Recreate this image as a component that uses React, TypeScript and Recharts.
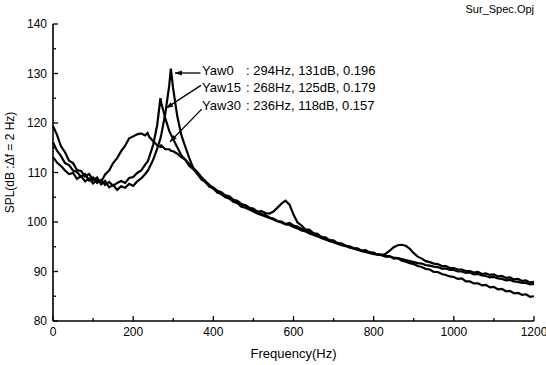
import { LineChart, Line, XAxis, YAxis, ReferenceLine, ReferenceDot } from 'recharts';

// frequency grid (Hz), with the three peak frequencies added
const FREQ = [
  0, 10, 20, 30, 40, 50, 60, 70, 80, 90,
  100, 110, 120, 130, 140, 150, 160, 170, 180, 190,
  200, 210, 220, 230, 236, 240, 250, 260, 268, 270,
  280, 290, 294, 300, 310, 320, 330, 340, 350, 360,
  370, 380, 390, 400, 410, 420, 430, 440, 450, 460,
  470, 480, 490, 500, 510, 520, 530, 540, 550, 560,
  570, 580, 590, 600, 610, 620, 630, 640, 650, 660,
  670, 680, 690, 700, 710, 720, 730, 740, 750, 760,
  770, 780, 790, 800, 810, 820, 830, 840, 850, 860,
  870, 880, 890, 900, 910, 920, 930, 940, 950, 960,
  970, 980, 990, 1000, 1010, 1020, 1030, 1040, 1050, 1060,
  1070, 1080, 1090, 1100, 1110, 1120, 1130, 1140, 1150, 1160,
  1170, 1180, 1190, 1200,
];

const YAW0 = [
  119.4, 117.6, 115.3, 114.1, 112.4, 111.9, 110.5, 110.3, 109.2, 109.7,
  108.5, 109.0, 107.6, 108.3, 107.0, 107.5, 106.5, 107.2, 106.9, 107.7,
  107.3, 108.2, 108.8, 109.7, 110.3, 110.9, 112.6, 114.8, 116.9, 117.6,
  121.8, 127.6, 131.0, 126.8, 121.4, 117.6, 115.2, 112.9, 110.9, 109.8,
  108.6, 108.1, 107.1, 106.9, 105.9, 105.8, 105.1, 105.0, 104.2, 104.1,
  103.3, 103.4, 102.8, 102.7, 102.1, 102.2, 101.8, 101.7, 102.1, 102.9,
  103.7, 104.3, 103.5, 101.5, 99.9, 99.3, 98.5, 98.4, 97.7, 97.6,
  96.9, 96.9, 96.3, 96.3, 95.7, 95.7, 95.2, 95.1, 94.7, 94.7,
  94.2, 94.3, 93.8, 93.8, 93.4, 93.4, 93.1, 93.1, 92.6, 92.7,
  92.2, 92.0, 91.7, 91.5, 91.1, 90.9, 90.5, 90.4, 89.9, 89.9,
  89.5, 89.3, 89.0, 88.9, 88.5, 88.6, 88.0, 88.0, 87.6, 87.6,
  87.2, 87.3, 86.8, 86.9, 86.4, 86.5, 86.0, 86.1, 85.6, 85.7,
  85.3, 85.4, 84.9, 85.0,
];

const YAW15 = [
  116.1, 114.4, 113.3, 111.9, 111.5, 110.4, 110.1, 109.1, 109.7, 108.4,
  109.0, 107.9, 108.5, 107.5, 108.1, 107.3, 107.9, 108.3, 107.9, 108.9,
  109.1, 109.9, 110.4, 111.6, 112.2, 113.1, 115.6, 119.6, 125.0, 124.1,
  121.0, 118.4, 117.7, 116.7, 115.1, 113.5, 112.6, 111.3, 110.7, 109.7,
  108.9, 108.1, 107.3, 107.0, 106.3, 106.0, 105.4, 105.2, 104.5, 104.3,
  103.6, 103.4, 102.9, 102.4, 102.1, 101.6, 101.4, 100.9, 100.7, 100.2,
  100.1, 99.6, 99.8, 99.3, 99.1, 98.6, 98.4, 97.9, 97.7, 97.2,
  97.0, 96.5, 96.4, 95.9, 95.8, 95.4, 95.3, 94.8, 94.8, 94.4,
  94.3, 93.9, 93.9, 93.5, 93.5, 93.3, 93.6, 94.2, 94.9, 95.3,
  95.4, 95.2, 94.6, 93.7, 93.0, 92.6, 92.1, 91.9, 91.6, 91.5,
  91.1, 91.1, 90.7, 90.7, 90.4, 90.4, 90.1, 90.1, 89.8, 89.9,
  89.5, 89.6, 89.3, 89.4, 89.0, 89.1, 88.7, 88.8, 88.4, 88.5,
  88.1, 88.2, 87.8, 87.9,
];

const YAW30 = [
  113.1, 112.0, 111.3, 110.4, 109.7, 109.9, 108.7, 109.3, 108.2, 108.8,
  107.8, 108.5, 108.1, 109.6, 110.4, 111.9, 112.9, 114.3, 115.4, 116.9,
  117.3, 117.7, 117.9, 117.5, 118.0, 117.2, 116.3, 115.5, 115.2, 115.5,
  114.7, 114.7, 114.4, 114.3, 113.8, 113.1, 112.6, 111.7, 110.9, 110.1,
  109.1, 108.3, 107.5, 106.7, 106.1, 105.6, 105.0, 104.7, 104.1, 103.8,
  103.1, 102.9, 102.5, 102.1, 101.7, 101.4, 101.1, 100.8, 100.5, 100.1,
  99.9, 99.5, 99.4, 99.0, 98.7, 98.3, 98.1, 97.7, 97.4, 97.1,
  96.7, 96.5, 96.1, 95.9, 95.6, 95.3, 95.1, 94.9, 94.6, 94.4,
  94.1, 94.0, 93.7, 93.6, 93.4, 93.3, 93.0, 93.0, 92.8, 92.7,
  92.5, 92.3, 92.1, 91.9, 91.7, 91.6, 91.3, 91.2, 91.0, 90.9,
  90.6, 90.6, 90.3, 90.3, 90.0, 90.0, 89.7, 89.8, 89.4, 89.5,
  89.2, 89.1, 88.8, 88.9, 88.6, 88.5, 88.2, 88.3, 88.0, 87.9,
  87.7, 87.7, 87.4, 87.5,
];

const X_TICKS = [0, 100, 200, 300, 400, 500, 600, 700, 800, 900, 1000, 1100, 1200];
const Y_TICKS = [80, 85, 90, 95, 100, 105, 110, 115, 120, 125, 130, 135, 140];

// peak annotations: name, text, text anchor, leader start and arrow tip (Hz, dB)
const NOTE_NAMES = ['Yaw0', 'Yaw15', 'Yaw30'];
const NOTE_TEXT = [': 294Hz, 131dB, 0.196', ': 268Hz, 125dB, 0.179', ': 236Hz, 118dB, 0.157'];
const NOTE_AT = [[372, 130.7], [372, 127.2], [372, 123.6]];
const NOTE_FROM = [[368, 130.1], [369, 127.6], [371, 122.8]];
const NOTE_TO = [[304, 130.1], [282, 123.0], [292, 116.2]];

const data = FREQ.map((f, i) => ({ f, yaw0: YAW0[i], yaw15: YAW15[i], yaw30: YAW30[i] }));

const FONT = 'Arial, "Liberation Sans", Helvetica, sans-serif';

const BottomTick = (props: any) => {
  const { x, y, payload } = props;
  const major = payload.value % 200 === 0;
  return (
    <g>
      <line x1={x} y1={y} x2={x} y2={y - (major ? 5 : 3)} stroke="#000" strokeWidth={1.3} />
      {major && (
        <text x={x} y={y + 15} textAnchor="middle" fontSize={12} fontFamily={FONT} fill="#000">
          {payload.value}
        </text>
      )}
    </g>
  );
};

const TopTick = (props: any) => {
  const { x, y, payload } = props;
  const major = payload.value % 200 === 0;
  return <line x1={x} y1={y} x2={x} y2={y + (major ? 5 : 3)} stroke="#000" strokeWidth={1.3} />;
};

const LeftTick = (props: any) => {
  const { x, y, payload } = props;
  const major = payload.value % 10 === 0;
  return (
    <g>
      <line x1={x} y1={y} x2={x + (major ? 5 : 3)} y2={y} stroke="#000" strokeWidth={1.3} />
      {major && (
        <text x={x - 6} y={y + 4} textAnchor="end" fontSize={12} fontFamily={FONT} fill="#000">
          {payload.value}
        </text>
      )}
    </g>
  );
};

const RightTick = (props: any) => {
  const { x, y, payload } = props;
  const major = payload.value % 10 === 0;
  return <line x1={x} y1={y} x2={x - (major ? 5 : 3)} y2={y} stroke="#000" strokeWidth={1.3} />;
};

const arrowShape = (props: any) => {
  const { x1, y1, x2, y2 } = props;
  const ang = Math.atan2(y2 - y1, x2 - x1);
  const len = 7;
  const w = 2.5;
  const bx = x2 - len * Math.cos(ang);
  const by = y2 - len * Math.sin(ang);
  const px = -Math.sin(ang) * w;
  const py = Math.cos(ang) * w;
  return (
    <g>
      <line x1={x1} y1={y1} x2={x2} y2={y2} stroke="#000" strokeWidth={1.3} />
      <polygon points={`${x2},${y2} ${bx + px},${by + py} ${bx - px},${by - py}`} fill="#000" />
    </g>
  );
};

const noteText = (i: number) => (props: any) => {
  const { cx, cy } = props;
  return (
    <g>
      <text x={cx} y={cy + 4.5} fontSize={13} fontFamily={FONT} fill="#000">
        {NOTE_NAMES[i]}
      </text>
      <text x={cx + 44} y={cy + 4.5} fontSize={13} fontFamily={FONT} fill="#000">
        {NOTE_TEXT[i]}
      </text>
    </g>
  );
};

export default function App() {
  return (
    <div style={{ position: 'absolute', left: 0, top: 0, width: 546, height: 365, background: '#fff' }}>
      <div
        style={{
          position: 'absolute',
          right: 12,
          top: 3,
          fontFamily: FONT,
          fontSize: 11,
          color: '#000',
        }}
      >
        Sur_Spec.Opj
      </div>
      <LineChart width={546} height={365} data={data} margin={{ top: 24, right: 12, bottom: 14, left: 8 }}>
        <XAxis
          dataKey="f"
          type="number"
          domain={[0, 1200]}
          ticks={X_TICKS}
          interval={0}
          tickSize={0}
          tickMargin={0}
          tickLine={false}
          tick={<BottomTick />}
          axisLine={{ stroke: '#000', strokeWidth: 1.6 }}
          height={30}
          label={{
            content: ({ viewBox }: any) => (
              <text
                x={viewBox.x + viewBox.width / 2}
                y={viewBox.y + 37}
                textAnchor="middle"
                fontSize={13}
                fontFamily={FONT}
                fill="#000"
              >
                Frequency(Hz)
              </text>
            ),
          }}
        />
        <XAxis
          xAxisId="top"
          orientation="top"
          dataKey="f"
          type="number"
          domain={[0, 1200]}
          ticks={X_TICKS}
          interval={0}
          tickSize={0}
          tickMargin={0}
          tickLine={false}
          tick={<TopTick />}
          axisLine={{ stroke: '#000', strokeWidth: 1.3 }}
          height={0}
        />
        <YAxis
          type="number"
          domain={[80, 140]}
          ticks={Y_TICKS}
          interval={0}
          tickSize={0}
          tickMargin={0}
          tickLine={false}
          tick={<LeftTick />}
          axisLine={{ stroke: '#000', strokeWidth: 1.6 }}
          width={45}
          label={{
            content: ({ viewBox }: any) => {
              const cx = viewBox.x + 6;
              const cy = viewBox.y + viewBox.height / 2 - 10;
              return (
                <text
                  x={cx}
                  y={cy}
                  transform={`rotate(-90, ${cx}, ${cy})`}
                  textAnchor="middle"
                  fontSize={12}
                  fontFamily={FONT}
                  fill="#000"
                >
                  SPL(dB :Δf = 2 Hz)
                </text>
              );
            },
          }}
        />
        <YAxis
          yAxisId="right"
          orientation="right"
          type="number"
          domain={[80, 140]}
          ticks={Y_TICKS}
          interval={0}
          tickSize={0}
          tickMargin={0}
          tickLine={false}
          tick={<RightTick />}
          axisLine={{ stroke: '#000', strokeWidth: 1.3 }}
          width={0}
        />
        <Line dataKey="yaw0" stroke="#000" strokeWidth={2.2} dot={false} isAnimationActive={false} />
        <Line dataKey="yaw15" stroke="#000" strokeWidth={2.2} dot={false} isAnimationActive={false} />
        <Line dataKey="yaw30" stroke="#000" strokeWidth={2.2} dot={false} isAnimationActive={false} />
        {NOTE_NAMES.map((n, i) => (
          <ReferenceLine
            key={`arrow-${n}`}
            segment={[
              { x: NOTE_FROM[i][0], y: NOTE_FROM[i][1] },
              { x: NOTE_TO[i][0], y: NOTE_TO[i][1] },
            ]}
            ifOverflow="visible"
            shape={arrowShape}
          />
        ))}
        {NOTE_NAMES.map((n, i) => (
          <ReferenceDot
            key={`text-${n}`}
            x={NOTE_AT[i][0]}
            y={NOTE_AT[i][1]}
            r={0}
            ifOverflow="visible"
            shape={noteText(i)}
          />
        ))}
      </LineChart>
    </div>
  );
}
